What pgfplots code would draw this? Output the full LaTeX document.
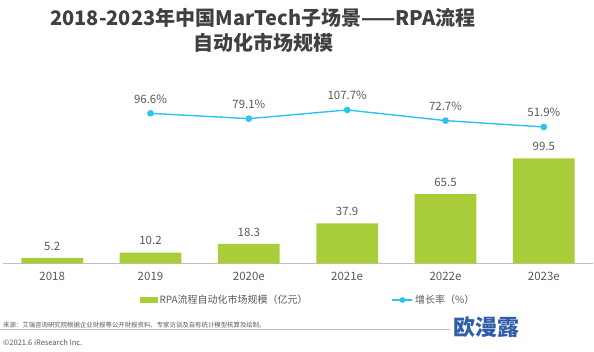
\documentclass[border=0pt]{standalone}
\usepackage{pgfplots}
\pgfplotsset{compat=1.18}
\usepackage{fontspec}
\setmainfont{Noto Sans CJK SC}
\definecolor{barg}{HTML}{A9CD38}
\definecolor{lineb}{HTML}{2DC3EC}
\definecolor{txt}{HTML}{595959}
\definecolor{ttl}{HTML}{404040}
\definecolor{axg}{HTML}{BFBFBF}
\definecolor{wm}{HTML}{2F5DA8}
\pgfplotsset{/pgf/number format/assume math mode=true}
\begin{document}
\begin{tikzpicture}
\path[use as bounding box] (0,0) rectangle (594pt,352pt);
\node[font=\bfseries\fontsize{20}{25}\selectfont, text=ttl, align=center] at (263pt,321.5pt) {2018-2023年中国MarTech子场景——RPA流程\\自动化市场规模};
\begin{axis}[at={(3pt,88.7pt)}, anchor=south west, scale only axis,
  width=590pt, height=130pt, xmin=-0.5, xmax=5.5, ymin=0, ymax=123.2,
  axis x line=bottom, axis y line=none, x axis line style={draw=axg,-},
  ybar, bar width=61.7pt,
  xtick={0,...,5}, xticklabels={2018,2019,2020e,2021e,2022e,2023e},
  major tick length=0,
  xticklabel style={font=\fontsize{11.5}{13}\selectfont, text=txt, yshift=-5pt},
  nodes near coords={\pgfmathprintnumber[fixed,fixed zerofill,precision=1]{\pgfplotspointmeta}},
  nodes near coords style={font=\fontsize{11.5}{13}\selectfont, text=txt, yshift=4pt},
  legend style={at={(0.226,-0.282)}, anchor=west, draw=none, fill=none,
    legend columns=2, font=\fontsize{10}{12}\selectfont, text=txt,
    /tikz/every even column/.append style={column sep=82pt}},
  clip=false]
\addplot[fill=barg, draw=none,
  legend image code/.code={\fill[barg] (0pt,-3pt) rectangle (18pt,3pt);}]
  coordinates {(0,5.2)(1,10.2)(2,18.3)(3,37.9)(4,65.5)(5,99.5)};
\addlegendentry{RPA流程自动化市场规模（亿元）}
\addlegendimage{legend image code/.code={\draw[lineb, line width=1.4pt] (0pt,0pt) -- (20pt,0pt); \fill[lineb] (10pt,0pt) circle (2.6pt);}}
\addlegendentry{增长率（\%）}
\end{axis}
\begin{axis}[at={(3pt,209.2pt)}, anchor=south west, scale only axis,
  width=590pt, height=40pt, xmin=-0.5, xmax=5.5, ymin=0, ymax=131.15,
  hide axis, clip=false]
\addplot[lineb, line width=1.4pt, mark=*, mark size=2.6pt,
  nodes near coords={\pgfmathprintnumber[fixed,fixed zerofill,precision=1]{\pgfplotspointmeta}\%},
  nodes near coords style={font=\fontsize{11.5}{13}\selectfont, text=txt, yshift=6pt}]
  coordinates {(1,96.6)(2,79.1)(3,107.7)(4,72.7)(5,51.9)};
\end{axis}
\draw[axg, line width=0.5pt] (0pt,23pt) -- (450pt,23pt);
\node[anchor=west, font=\fontsize{6.4}{8}\selectfont, text=txt, inner sep=0pt] at (3pt,27pt) {来源：艾瑞咨询研究院根据企业财报等公开财报资料、专家访谈及自有统计模型核算及绘制。};
\node[anchor=west, font=\fontsize{7.5}{9}\selectfont, text=txt, inner sep=0pt] at (3pt,9pt) {©2021.6 iResearch Inc.};
\node[anchor=center, font=\bfseries\fontsize{22}{24}\selectfont, text=wm, inner sep=0pt] at (486pt,25pt) {欧漫露};
\end{tikzpicture}
\end{document}
